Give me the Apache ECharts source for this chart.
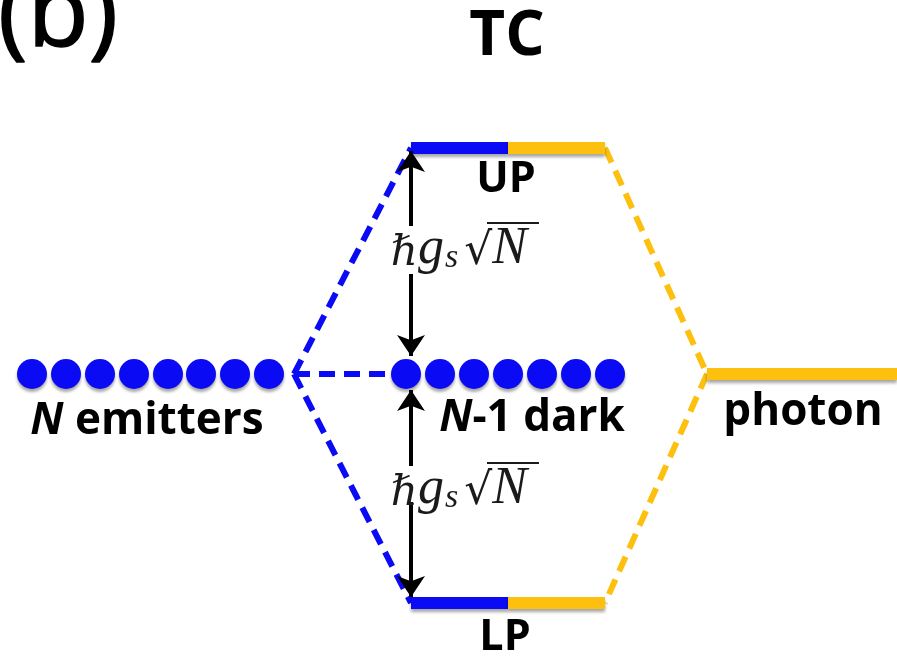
<!DOCTYPE html>
<html><head><meta charset="utf-8">
<script src="https://cdn.jsdelivr.net/npm/echarts@6/dist/echarts.min.js"></script>
<style>html,body{margin:0;padding:0;background:#fff}#c{width:897px;height:658px}</style>
</head><body><div id="c"></div>
<script>
// Diagram values (x: horizontal layout units, y: energy units, both in the 897x658 frame)
const emitterX = [32, 66, 100, 134, 168, 201, 235, 269];
const darkX = [406, 440, 474, 508, 542, 576, 610];
const levelY = { UP: 148, dark: 374, LP: 603 };
const vertexLeft = [294, 374];
const vertexRight = [707, 374];
const levelX = [411, 508, 605];
const photonX = [707, 897];
const arrows = [
  [[411, 226], [411, 151]],
  [[411, 274], [411, 356]],
  [[411, 466], [411, 390]],
  [[411, 502], [411, 597]]
];
const labels = [
  { text: '(b)', pos: [58, 18], style: 'big' },
  { text: 'TC', pos: [507, 37], style: 'title' },
  { text: 'UP', pos: [506, 180], style: 'lvl' },
  { text: 'LP', pos: [505, 638], style: 'lvl' },
  { text: '{i|N} emitters', pos: [147, 421], style: 'lab' },
  { text: '{i|N}-1 dark', pos: [532, 418], style: 'lab' },
  { text: 'photon', pos: [803, 412], style: 'lab' }
];
const mathLabels = [[459, 249], [459, 489]];

const BLUE = '#0a0af5', GOLD = '#fdc00f';
const font = "'Open Sans', 'Noto Sans', sans-serif";
const styleMap = {
  big: { fontSize: 100, fontWeight: 'normal' },
  title: { fontSize: 62, fontWeight: 'bold' },
  lvl: { fontSize: 43, fontWeight: 'bold' },
  lab: { fontSize: 44, fontWeight: 'bold' }
};

const seg = (a, b) => ({ coords: [a, b] });
const solidBlue = [
  seg([levelX[0], levelY.UP], [levelX[1], levelY.UP]),
  seg([levelX[0], levelY.LP], [levelX[1], levelY.LP])
];
const solidGold = [
  seg([levelX[1], levelY.UP], [levelX[2], levelY.UP]),
  seg([levelX[1], levelY.LP], [levelX[2], levelY.LP]),
  seg([photonX[0], levelY.dark], [photonX[1], levelY.dark])
];
const dashBlue = [
  seg(vertexLeft, [levelX[0], levelY.UP]),
  seg(vertexLeft, [levelX[0], levelY.LP]),
  seg(vertexLeft, [darkX[0] - 14, levelY.dark])
];
const dashGold = [
  seg([levelX[2], levelY.UP], vertexRight),
  seg(vertexRight, [levelX[2], levelY.LP])
];

const shadow = { shadowColor: 'rgba(0,0,0,0.35)', shadowBlur: 3, shadowOffsetY: 3 };

const chart = echarts.init(document.getElementById('c'), null, { renderer: 'canvas' });
chart.setOption({
  backgroundColor: '#fff',
  animation: false,
  grid: { left: 0, right: 0, top: 0, bottom: 0 },
  xAxis: { type: 'value', min: 0, max: 897, show: false },
  yAxis: { type: 'value', min: 0, max: 658, inverse: true, show: false },
  series: [
    { type: 'lines', coordinateSystem: 'cartesian2d', data: dashBlue, silent: true,
      lineStyle: { color: BLUE, width: 6, type: [16, 9], opacity: 1 }, z: 2 },
    { type: 'lines', coordinateSystem: 'cartesian2d', data: dashGold, silent: true,
      lineStyle: { color: GOLD, width: 6, type: [16, 9], opacity: 1 }, z: 2 },
    { type: 'lines', coordinateSystem: 'cartesian2d', data: solidBlue, silent: true,
      lineStyle: Object.assign({ color: BLUE, width: 12, opacity: 1 }, shadow), z: 3 },
    { type: 'lines', coordinateSystem: 'cartesian2d', data: solidGold, silent: true,
      lineStyle: Object.assign({ color: GOLD, width: 12, opacity: 1 }, shadow), z: 3 },
    { type: 'scatter', silent: true, symbolSize: 30, z: 4,
      itemStyle: Object.assign({ color: BLUE, opacity: 1 }, shadow),
      data: emitterX.map(x => [x, levelY.dark]).concat(darkX.map(x => [x, levelY.dark])) },
    { type: 'lines', coordinateSystem: 'cartesian2d', silent: true, z: 5,
      symbol: ['none', 'arrow'], symbolSize: [15, 21],
      lineStyle: { color: '#000', width: 4, opacity: 1 },
      data: arrows.map(a => ({ coords: a })) },
    { type: 'scatter', silent: true, symbolSize: 0, z: 6, itemStyle: { opacity: 1 },
      data: labels.map(l => ({
        value: l.pos,
        label: {
          show: true, position: 'inside', formatter: l.text,
          fontFamily: font, color: '#000',
          fontSize: styleMap[l.style].fontSize, fontWeight: styleMap[l.style].fontWeight,
          textBorderColor: l.style === 'big' ? '#000' : 'transparent',
          textBorderWidth: l.style === 'big' ? 1.5 : 0,
          rich: { i: { fontStyle: 'italic', fontFamily: font, fontWeight: 'bold',
                      fontSize: styleMap[l.style].fontSize, color: '#000' } }
        }
      })) },
    { type: 'scatter', silent: true, symbolSize: 0, z: 6, itemStyle: { opacity: 1 },
      data: mathLabels.map(p => ({
        value: p,
        label: {
          show: true, position: 'inside',
          formatter: '{h|ℏ}{g|g}{s|s}{r|√}{n|N}',
          rich: {
            h: { fontFamily: "'DejaVu Serif'", fontStyle: 'italic', fontSize: 42, color: '#1a1a1a', verticalAlign: 'bottom' },
            g: { fontFamily: "'Liberation Serif'", fontStyle: 'italic', fontSize: 52, color: '#1a1a1a', verticalAlign: 'bottom' },
            s: { fontFamily: "'Liberation Serif'", fontStyle: 'italic', fontSize: 34, color: '#1a1a1a', padding: [0, 6, 0, 1], verticalAlign: 'bottom' },
            r: { fontFamily: "'DejaVu Serif'", fontSize: 44, color: '#1a1a1a', verticalAlign: 'bottom' },
            n: { fontFamily: "'Liberation Serif'", fontStyle: 'italic', fontSize: 52, color: '#1a1a1a', verticalAlign: 'bottom' }
          }
        }
      })) }
  ]
});
// radical overbars attached to the math labels
chart.setOption({
  graphic: mathLabels.map(p => {
    const px = chart.convertToPixel({ gridIndex: 0 }, p);
    return { type: 'line', silent: true, z: 10,
      shape: { x1: px[0] + 28, y1: px[1] - 26, x2: px[0] + 80, y2: px[1] - 26 },
      style: { stroke: '#1a1a1a', lineWidth: 2 } };
  })
});
</script></body></html>
